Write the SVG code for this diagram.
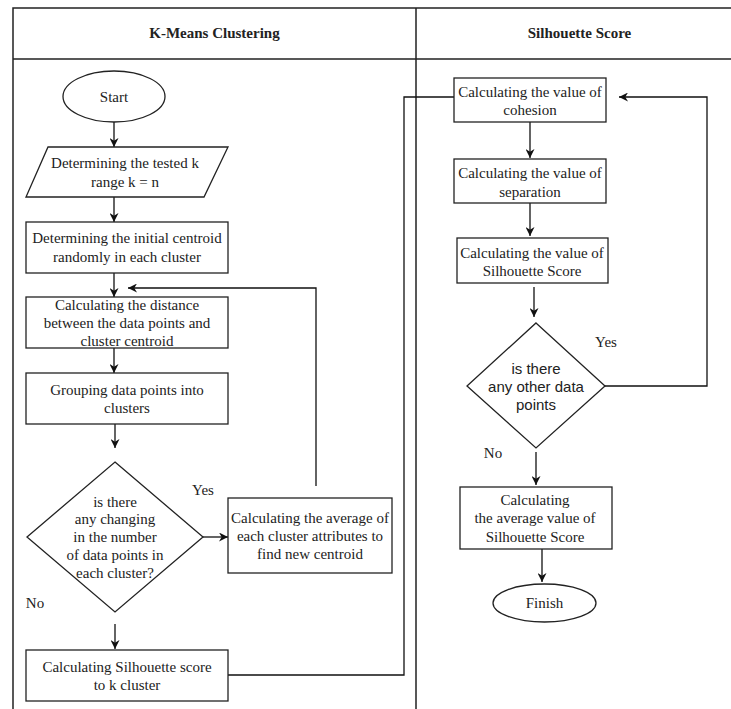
<svg xmlns="http://www.w3.org/2000/svg" width="731" height="709" viewBox="0 0 731 709">
<style>
.frame{fill:none;stroke:#222;stroke-width:1.5}
.shape{fill:#fff;stroke:#222;stroke-width:1.3}
.edge{fill:none;stroke:#111;stroke-width:1.3}
.t{font-family:"Liberation Serif","Times New Roman",serif;font-size:15px;fill:#222;text-anchor:middle;dominant-baseline:central}
.s{font-family:"Liberation Sans",Arial,sans-serif;font-size:15px;fill:#222;text-anchor:middle;dominant-baseline:central}
.h{font-family:"Liberation Serif","Times New Roman",serif;font-size:15px;font-weight:bold;fill:#222;text-anchor:middle;dominant-baseline:central}
</style>
<defs>
<marker id="arr" viewBox="0 0 10 10" refX="10" refY="5" markerWidth="10" markerHeight="9" markerUnits="userSpaceOnUse" orient="auto">
<path d="M0,0 L10,5 L0,10 L3,5 z" fill="#111"/>
</marker>
</defs>
<rect width="731" height="709" fill="#fff"/>
<g id="frame">
<path class="frame" d="M13,709 V8 H731 M13,59 H731 M416,8 V709"/>
<text class="h" x="214.5" y="33">K-Means Clustering</text>
<text class="h" x="579.5" y="33">Silhouette Score</text>
</g>
<g id="connectors">
<path class="edge" d="M114,122 V147" marker-end="url(#arr)"/>
<path class="edge" d="M114,197 V222" marker-end="url(#arr)"/>
<path class="edge" d="M114,273 V297" marker-end="url(#arr)"/>
<path class="edge" d="M114,348 V373" marker-end="url(#arr)"/>
<path class="edge" d="M115,424 V448" marker-end="url(#arr)"/>
<path class="edge" d="M203,537 H228" marker-end="url(#arr)"/>
<path class="edge" d="M316,486 V288 H128" marker-end="url(#arr)"/>
<path class="edge" d="M115,624 V649" marker-end="url(#arr)"/>
<path class="edge" d="M228,675 H404 V97 H454"/>
<path class="edge" d="M530,122 V158" marker-end="url(#arr)"/>
<path class="edge" d="M530,203 V236" marker-end="url(#arr)"/>
<path class="edge" d="M534,287 V317" marker-end="url(#arr)"/>
<path class="edge" d="M605,386 H707 V97 H619" marker-end="url(#arr)"/>
<path class="edge" d="M536,452 V485" marker-end="url(#arr)"/>
<path class="edge" d="M542,549 V582" marker-end="url(#arr)"/>
<text class="t" x="203" y="490">Yes</text>
<text class="t" x="35" y="603">No</text>
<text class="t" x="606" y="342">Yes</text>
<text class="t" x="493" y="453">No</text>
</g>
<g id="start">
<ellipse class="shape" cx="114" cy="96.5" rx="51" ry="25.5"/>
<text class="t" x="114" y="97">Start</text>
</g>
<g id="tested-k">
<polygon class="shape" points="48,147 228,147 204,197 26,197"/>
<text class="t" x="125" y="163">Determining the tested k</text>
<text class="t" x="125" y="182">range k = n</text>
</g>
<g id="initial-centroid">
<rect class="shape" x="26" y="222" width="202" height="51"/>
<text class="t" x="127" y="238">Determining the initial centroid</text>
<text class="t" x="127" y="257">randomly in each cluster</text>
</g>
<g id="distance">
<rect class="shape" x="26" y="297" width="202" height="51"/>
<text class="t" x="127" y="305">Calculating the distance</text>
<text class="t" x="127" y="323">between the data points and</text>
<text class="t" x="127" y="341">cluster centroid</text>
</g>
<g id="grouping">
<rect class="shape" x="26" y="373" width="202" height="51"/>
<text class="t" x="127" y="390">Grouping data points into</text>
<text class="t" x="127" y="408">clusters</text>
</g>
<g id="changing">
<polygon class="shape" points="115,462 203,537 115,612 27,537"/>
<text class="t" x="115" y="502">is there</text>
<text class="t" x="115" y="519">any changing</text>
<text class="t" x="115" y="537">in the number</text>
<text class="t" x="115" y="555">of data points in</text>
<text class="t" x="115" y="573">each cluster?</text>
</g>
<g id="average">
<rect class="shape" x="228" y="498" width="164" height="75"/>
<text class="t" x="310" y="518">Calculating the average of</text>
<text class="t" x="310" y="536">each cluster attributes to</text>
<text class="t" x="310" y="554">find new centroid</text>
</g>
<g id="silhouette-k">
<rect class="shape" x="26" y="650" width="202" height="51"/>
<text class="t" x="127" y="667">Calculating Silhouette score</text>
<text class="t" x="127" y="685">to k cluster</text>
</g>
<g id="cohesion">
<rect class="shape" x="454" y="78" width="152" height="44"/>
<text class="t" x="530" y="92">Calculating the value of</text>
<text class="t" x="530" y="110">cohesion</text>
</g>
<g id="separation">
<rect class="shape" x="454" y="159" width="152" height="44"/>
<text class="t" x="530" y="173">Calculating the value of</text>
<text class="t" x="530" y="192">separation</text>
</g>
<g id="silhouette-value">
<rect class="shape" x="457" y="238" width="151" height="45"/>
<text class="t" x="532" y="253">Calculating the value of</text>
<text class="t" x="532" y="271">Silhouette Score</text>
</g>
<g id="other-points">
<polygon class="shape" points="536,323 605,386 536,448 467,386"/>
<text class="s" x="536" y="368">is there</text>
<text class="s" x="536" y="386">any other data</text>
<text class="s" x="536" y="404">points</text>
</g>
<g id="average-silhouette">
<rect class="shape" x="460" y="487" width="152" height="62"/>
<text class="t" x="535" y="500">Calculating</text>
<text class="t" x="535" y="518">the average value of</text>
<text class="t" x="535" y="537">Silhouette Score</text>
</g>
<g id="finish">
<ellipse class="shape" cx="544.5" cy="603" rx="51.5" ry="19"/>
<text class="t" x="544.5" y="603">Finish</text>
</g>
</svg>
